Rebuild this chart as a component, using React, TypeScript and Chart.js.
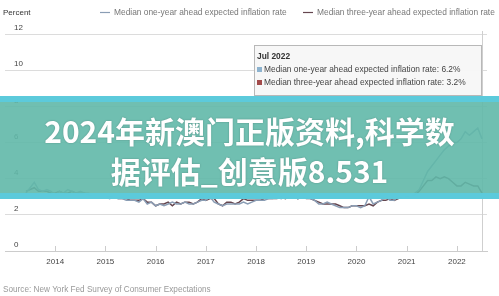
import { useEffect, useRef } from "react";
import { Chart, registerables } from "chart.js";

Chart.register(...registerables);

// Monthly data, June 2013 .. July 2022
const START_YEAR = 2013;
const START_MONTH = 6;
const MONTH_NAMES = ["Jan", "Feb", "Mar", "Apr", "May", "Jun", "Jul", "Aug", "Sep", "Oct", "Nov", "Dec"];

const ONE_YEAR = [
  3.2, 3.5, 3.8, 3.4, 3.3, 3.4, 3.3, // 2013
  3.1, 3.3, 3.2, 3.4, 3.3, 3.2, 3.3, 3.2, 3.2, 3.1, 3.1, 3.0, // 2014
  3.0, 2.9, 3.0, 2.9, 2.9, 2.8, 2.8, 2.8, 2.7, 2.9, 2.6, 2.7, // 2015
  2.5, 2.6, 2.5, 2.6, 2.7, 2.6, 2.6, 2.7, 2.6, 2.6, 2.7, 2.8, // 2016
  2.8, 3.0, 2.7, 2.6, 2.5, 2.6, 2.6, 2.6, 2.6, 2.7, 2.6, 2.7, // 2017
  2.8, 2.8, 2.8, 2.9, 2.9, 3.0, 2.9, 3.0, 3.0, 3.0, 2.9, 3.0, // 2018
  3.0, 2.9, 2.8, 2.6, 2.6, 2.7, 2.6, 2.5, 2.4, 2.4, 2.4, 2.5, // 2019
  2.5, 2.4, 2.5, 3.0, 2.6, 2.7, 2.8, 3.0, 2.8, 2.8, 3.0, 3.0, // 2020
  3.1, 3.1, 3.2, 3.4, 3.9, 4.4, 4.7, 5.0, 5.3, 5.6, 5.8, 6.0, // 2021
  6.0, 6.2, 6.6, 6.4, 6.6, 6.8, 6.2, // 2022
];

const THREE_YEAR = [
  3.3, 3.4, 3.5, 3.3, 3.3, 3.3, 3.2, // 2013
  3.2, 3.3, 3.2, 3.2, 3.3, 3.2, 3.2, 3.2, 3.1, 3.1, 3.1, 3.0, // 2014
  3.0, 3.0, 3.0, 2.9, 2.9, 2.9, 2.8, 2.8, 2.8, 2.9, 2.7, 2.7, // 2015
  2.5, 2.6, 2.6, 2.7, 2.5, 2.7, 2.6, 2.7, 2.7, 2.6, 2.7, 2.9, // 2016
  2.8, 2.9, 2.9, 2.6, 2.5, 2.7, 2.7, 2.6, 2.7, 2.9, 2.8, 2.8, // 2017
  2.8, 2.8, 2.9, 2.9, 2.9, 2.9, 3.0, 2.9, 3.0, 3.0, 2.9, 3.0, // 2018
  2.9, 2.9, 2.8, 2.7, 2.6, 2.6, 2.6, 2.6, 2.5, 2.4, 2.4, 2.5, // 2019
  2.5, 2.5, 2.5, 2.6, 2.5, 2.7, 2.8, 2.8, 2.9, 2.8, 2.9, 3.0, // 2020
  3.0, 3.1, 3.1, 3.3, 3.6, 3.9, 3.9, 4.1, 4.0, 4.1, 4.0, 3.8, // 2021
  3.6, 3.6, 3.8, 3.7, 3.6, 3.6, 3.2, // 2022
];

const Y_TICKS = [0, 2, 4, 6, 8, 10, 12];
const X_YEARS = [2014, 2015, 2016, 2017, 2018, 2019, 2020, 2021, 2022];

const SERIES_NAMES = [
  "Median one-year ahead expected inflation rate",
  "Median three-year ahead expected inflation rate",
];
const LINE_COLORS = ["#8a9db4", "#65464f"];
const SWATCH_COLORS = ["#8db3cf", "#a24a4a"];
const TITLE_Y = "Percent";
const SOURCE = "Source: New York Fed Survey of Consumer Expectations";
const BANNER_LINES = ["2024年新澳门正版资料,科学数", "据评估_创意版8.531"];

const monthX = (i: number) => {
  const m = START_MONTH - 1 + i;
  return START_YEAR + Math.floor(m / 12) + (m % 12) / 12;
};
const monthLabel = (i: number) => {
  const m = START_MONTH - 1 + i;
  return `${MONTH_NAMES[m % 12]} ${START_YEAR + Math.floor(m / 12)}`;
};

const FONT = "'Liberation Sans', Arial, sans-serif";

const overlayPlugin = {
  id: "overlay",
  beforeDatasetsDraw(chart: any) {
    const { ctx, chartArea, scales } = chart;
    const last = ONE_YEAR.length - 1;
    const px = Math.round(scales.x.getPixelForValue(monthX(last))) + 0.5;
    ctx.save();
    ctx.strokeStyle = "#cfcfcf";
    ctx.lineWidth = 1;
    ctx.beginPath();
    ctx.moveTo(px, chartArea.top - 3);
    ctx.lineTo(px, chartArea.bottom);
    ctx.stroke();
    // x tick marks (inside)
    ctx.strokeStyle = "#cccccc";
    for (const yr of X_YEARS) {
      const tx = Math.round(scales.x.getPixelForValue(yr)) + 0.5;
      ctx.beginPath();
      ctx.moveTo(tx, chartArea.bottom - 5);
      ctx.lineTo(tx, chartArea.bottom);
      ctx.stroke();
    }
    ctx.restore();
  },
  afterDraw(chart: any) {
    const { ctx, chartArea, scales } = chart;
    ctx.save();
    ctx.textBaseline = "middle";
    // y title
    ctx.font = `8px ${FONT}`;
    ctx.fillStyle = "#333";
    ctx.textAlign = "left";
    ctx.fillText(TITLE_Y, 3, 13);
    // legend
    const legendX = [100, 303];
    ctx.font = `8.4px ${FONT}`;
    SERIES_NAMES.forEach((name, i) => {
      ctx.strokeStyle = LINE_COLORS[i];
      ctx.lineWidth = 1.2;
      ctx.beginPath();
      ctx.moveTo(legendX[i], 12.5);
      ctx.lineTo(legendX[i] + 10, 12.5);
      ctx.stroke();
      ctx.fillStyle = "#777";
      ctx.fillText(name, legendX[i] + 14, 13);
    });
    // tooltip
    const last = ONE_YEAR.length - 1;
    const right = Math.round(scales.x.getPixelForValue(monthX(last)));
    const w = 228, h = 51;
    const left = right - w;
    const top = chartArea.top + 11;
    ctx.fillStyle = "rgba(247,247,247,0.95)";
    ctx.fillRect(left, top, w, h);
    ctx.strokeStyle = "#b8b8b8";
    ctx.lineWidth = 1;
    ctx.strokeRect(left + 0.5, top + 0.5, w - 1, h - 1);
    ctx.fillStyle = "#333";
    ctx.font = `bold 8.4px ${FONT}`;
    ctx.fillText(monthLabel(last), left + 3, top + 12);
    ctx.font = `8.4px ${FONT}`;
    const vals = [ONE_YEAR[last], THREE_YEAR[last]];
    vals.forEach((v, i) => {
      const ly = top + 25 + i * 13;
      ctx.fillStyle = SWATCH_COLORS[i];
      ctx.fillRect(left + 3, ly - 3, 5, 5);
      ctx.fillStyle = "#444";
      ctx.fillText(`${SERIES_NAMES[i]}: ${v.toFixed(1)}%`, left + 10, ly);
    });
    // source
    ctx.font = `8.2px ${FONT}`;
    ctx.fillStyle = "#999";
    ctx.fillText(SOURCE, 3, 290);
    ctx.restore();
  },
};

export default function App() {
  const ref = useRef<HTMLCanvasElement | null>(null);

  useEffect(() => {
    if (!ref.current) return;
    const chart = new Chart(ref.current, {
      type: "line",
      data: {
        datasets: [ONE_YEAR, THREE_YEAR].map((arr, k) => ({
          label: SERIES_NAMES[k],
          data: arr.map((v, i) => ({ x: monthX(i), y: v })),
          borderColor: LINE_COLORS[k],
          borderWidth: 1.5,
          pointRadius: 0,
          tension: 0,
          fill: false,
        })),
      },
      options: {
        animation: false,
        responsive: false,
        maintainAspectRatio: false,
        devicePixelRatio: 1,
        layout: { padding: { left: 5, right: 12, top: 34, bottom: 0 } },
        plugins: { legend: { display: false }, tooltip: { enabled: false } },
        scales: {
          x: {
            type: "linear",
            min: 2013,
            max: 2022.6,
            afterBuildTicks: (s: any) => {
              s.ticks = X_YEARS.map((v) => ({ value: v }));
            },
            afterFit: (s: any) => {
              s.height = 45;
            },
            grid: { display: false, drawTicks: false },
            border: { display: true, color: "#cccccc", width: 1 },
            ticks: {
              color: "#444",
              font: { size: 8, family: FONT },
              padding: 6,
              maxRotation: 0,
              autoSkip: false,
              callback: (v: any) => String(v),
            },
          },
          y: {
            type: "linear",
            min: 0,
            max: 12,
            afterBuildTicks: (s: any) => {
              s.ticks = Y_TICKS.map((v) => ({ value: v }));
            },
            afterFit: (s: any) => {
              s.width = 0;
            },
            grid: { color: "#dcdcdc", drawTicks: false, lineWidth: 1 },
            border: { display: false },
            ticks: {
              mirror: true,
              padding: 9,
              labelOffset: -6,
              color: "#444",
              font: { size: 8, family: FONT },
              callback: (v: any) => String(v),
            },
          },
        },
      },
      plugins: [overlayPlugin],
    });
    return () => chart.destroy();
  }, []);

  return (
    <div
      style={{
        position: "fixed",
        left: 0,
        top: 0,
        width: 499,
        height: 296,
        background: "#fff",
        overflow: "hidden",
      }}
    >
      <canvas ref={ref} width={499} height={296} style={{ display: "block", width: 499, height: 296 }} />
      <div
        style={{
          position: "absolute",
          left: 0,
          top: 96,
          width: 499,
          height: 103,
          boxSizing: "border-box",
          background: "rgba(96,184,168,0.9)",
          borderTop: "6px solid rgba(92,202,221,0.95)",
          borderBottom: "6px solid rgba(92,202,221,0.95)",
        }}
      >
        {BANNER_LINES.map((t, i) => (
          <div
            key={i}
            style={{
              position: "absolute",
              left: 0,
              width: 499,
              top: 8 + i * 40,
              height: 40,
              lineHeight: "40px",
              textAlign: "center",
              whiteSpace: "nowrap",
              color: "#fff",
              fontFamily: "'Noto Sans CJK SC', sans-serif",
              fontWeight: 700,
              fontSize: 30,
              textShadow: "0 0 2px rgba(0,0,0,0.25)",
            }}
          >
            {t}
          </div>
        ))}
      </div>
    </div>
  );
}
